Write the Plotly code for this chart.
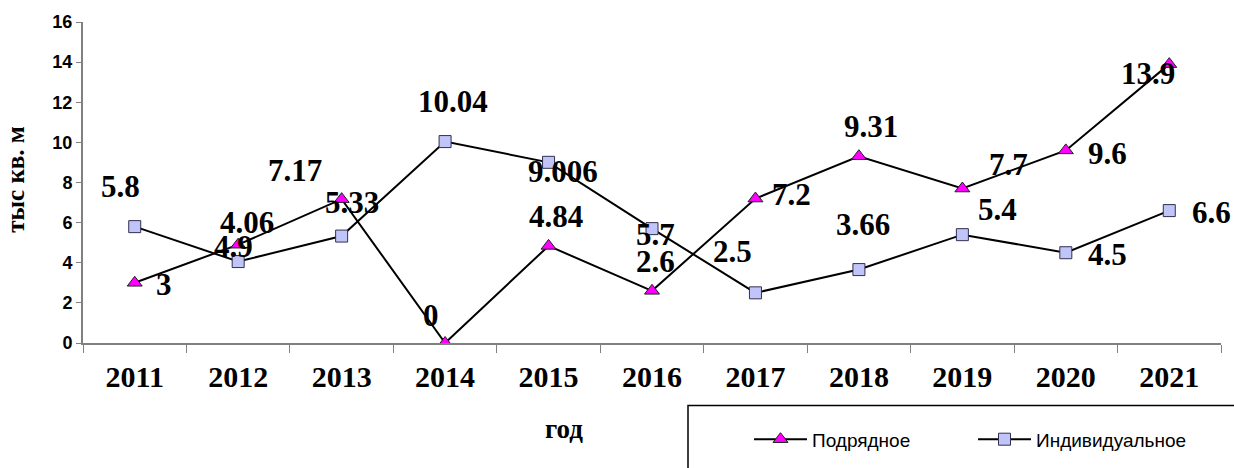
import plotly.graph_objects as go

years = ["2011", "2012", "2013", "2014", "2015", "2016", "2017", "2018", "2019", "2020", "2021"]
podryad = [3, 4.9, 7.17, 0, 4.84, 2.6, 7.2, 9.31, 7.7, 9.6, 13.9]
individ = [5.8, 4.06, 5.33, 10.04, 9.006, 5.7, 2.5, 3.66, 5.4, 4.5, 6.6]
name_podryad = "Подрядное"
name_individ = "Индивидуальное"
y_title = "тыс кв. м"
x_title = "год"

# label offsets in pixels (dx right, dy down) relative to each point
off_podryad = [(29, 2), (-5, 2), (-47, -29), (-14, -28), (7, -29), (3, -29),
               (36, -4), (12, -30), (46, -24), (42, 3), (-21, 9)]
off_individ = [(-14, -40), (9, -39), (10, -34), (8, -40), (14, 9), (3, 6),
               (-23, -41), (4, -45), (35, -25), (42, 2), (42, 2)]

SERIF = "Liberation Serif, Times New Roman, serif"
SANS = "Liberation Sans, Arial, sans-serif"

fig = go.Figure()
fig.add_trace(go.Scatter(
    x=years, y=podryad, name=name_podryad, mode="lines+markers",
    line=dict(color="black", width=2),
    marker=dict(symbol="triangle-up", size=13, color="#FF00FF",
                line=dict(color="#202020", width=1)),
))
fig.add_trace(go.Scatter(
    x=years, y=individ, name=name_individ, mode="lines+markers",
    line=dict(color="black", width=2),
    marker=dict(symbol="square", size=12, color="#C0C4F8",
                line=dict(color="#303050", width=1)),
))

annotations = []
for vals, offs in ((podryad, off_podryad), (individ, off_individ)):
    for i, (v, (dx, dy)) in enumerate(zip(vals, offs)):
        annotations.append(dict(
            x=i, y=v, xref="x", yref="y", text=f"{v:g}", showarrow=False,
            xanchor="center", yanchor="middle",
            xshift=dx, yshift=-dy,
            font=dict(family=SERIF, size=31, color="black", weight="bold"),
        ))

L, R, T, B = 83, 13, 22, 124.5
W, H = 1234, 468
pw = W - L - R
ph = H - T - B


def px(xp):
    return (xp - L) / pw


def py(yp):
    return (H - B - yp) / ph


annotations.append(dict(
    x=px(16), y=py(180), xref="paper", yref="paper", text=y_title,
    showarrow=False, textangle=-90, xanchor="center", yanchor="middle",
    font=dict(family=SERIF, size=25, color="black", weight="bold"),
))
annotations.append(dict(
    x=px(564), y=py(430), xref="paper", yref="paper", text=x_title,
    showarrow=False, xanchor="center", yanchor="middle",
    font=dict(family=SERIF, size=27, color="black", weight="bold"),
))

fig.update_layout(
    width=W, height=H,
    margin=dict(l=L, r=R, t=T, b=B, autoexpand=False),
    paper_bgcolor="white", plot_bgcolor="white",
    showlegend=True,
    legend=dict(
        orientation="h", x=px(749), y=py(440), xanchor="left", yanchor="middle",
        font=dict(family=SANS, size=19, color="black"),
        entrywidth=156, entrywidthmode="pixels", itemwidth=53,
        bgcolor="rgba(0,0,0,0)", borderwidth=0,
    ),
    annotations=annotations,
    shapes=[dict(type="rect", xref="paper", yref="paper",
                 x0=px(688), x1=px(1245), y0=py(480), y1=py(406),
                 line=dict(color="black", width=1.5), fillcolor="rgba(0,0,0,0)",
                 layer="below")],
)
fig.update_xaxes(
    type="category", range=[-0.5, 10.5], tickson="boundaries",
    showline=True, linecolor="#808080", linewidth=2,
    ticks="outside", ticklen=8, tickcolor="#808080", tickwidth=1,
    ticklabelstandoff=6,
    showgrid=False, zeroline=False,
    tickfont=dict(family=SERIF, size=30, color="black", weight="bold"),
)
fig.update_yaxes(
    range=[0, 16], dtick=2, tick0=0,
    showline=True, linecolor="#808080", linewidth=2,
    ticks="outside", ticklen=5, tickcolor="#808080", tickwidth=1,
    showgrid=False, zeroline=False,
    tickfont=dict(family=SANS, size=18, color="black", weight="bold"),
)

fig.write_html("out.html", config={"displayModeBar": False},
               post_script="document.body.style.margin='0';")
